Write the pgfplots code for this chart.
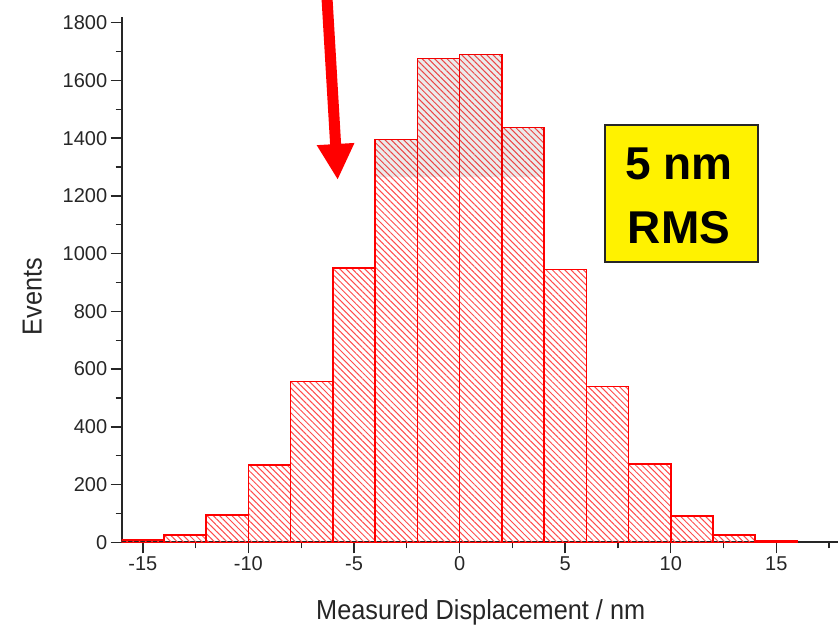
\documentclass[border=0pt]{standalone}
\usepackage{fontspec}
\setmainfont{Liberation Sans}
\newfontfamily\labelfont[FakeStretch=0.92]{Liberation Sans}
\usepackage{pgfplots}
\pgfplotsset{compat=1.18}
\usetikzlibrary{patterns.meta,arrows.meta}
\begin{document}
\begin{tikzpicture}
\begin{axis}[
  at={(121.7pt,83.7pt)}, anchor=south west,
  scale only axis, width=718pt, height=525.4pt,
  xmin=-16, xmax=18, ymin=0, ymax=1820,
  axis x line*=bottom, axis y line*=left,
  axis line style={-, line width=1.6pt, black!85},
  tick align=outside,
  major tick length=11pt, minor tick length=6pt,
  every tick/.append style={line width=1.4pt, black!85},
  xtick={-15,-10,...,15}, xticklabels={-15,-10,-5,0,5,10,15},
  minor xtick={-12.5,-7.5,-2.5,2.5,7.5,12.5,17.5},
  ytick={0,200,...,1800}, yticklabels={0,200,400,600,800,1000,1200,1400,1600,1800},
  minor ytick={100,300,...,1700},
  tick label style={font=\fontsize{20}{22}\selectfont, text=black!85},
  xlabel={Measured Displacement / nm},
  ylabel={Events},
  xlabel style={at={(axis description cs:0.5,-0.1466)}, anchor=base, font=\labelfont\fontsize{27.5}{30}\selectfont, text=black!85},
  ylabel style={at={(axis description cs:-0.1114,0.4675)}, anchor=base, font=\labelfont\fontsize{27.5}{30}\selectfont, text=black!85},
]
\addplot[ybar interval, draw=red, line width=1.5pt, pattern={Lines[angle=-45,distance=4.4pt,line width=1pt]}, pattern color=red!70]
  coordinates {(-16,8) (-14,25) (-12,94) (-10,267) (-8,557) (-6,951) (-4,1396) (-2,1676) (0,1690) (2,1437) (4,945) (6,539) (8,271) (10,91) (12,25) (14,5) (16,0)};
\addplot[draw=none, fill=black, fill opacity=0.08]
  coordinates {(-4,1265) (-4,1396) (-2,1396) (-2,1676) (0,1676) (0,1690) (2,1690) (2,1437) (4,1437) (4,1265)} -- cycle;
\end{axis}
\draw[red, line width=11pt, -{Triangle[width=35pt,length=36pt]}] (326.3pt,640pt) -- (337.7pt,446pt);
\draw[line width=2pt, draw=black!85, fill=yellow] (605pt,501pt) rectangle (758pt,364pt);
\node[anchor=base, inner sep=0pt, font=\bfseries\fontsize{46}{50}\selectfont] at (679pt,446pt) {5 nm};
\node[anchor=base, inner sep=0pt, font=\bfseries\fontsize{46}{50}\selectfont] at (679pt,382.7pt) {RMS};
\pgfresetboundingbox
\useasboundingbox (0pt,0pt) rectangle (838pt,626pt);
\end{tikzpicture}
\end{document}
